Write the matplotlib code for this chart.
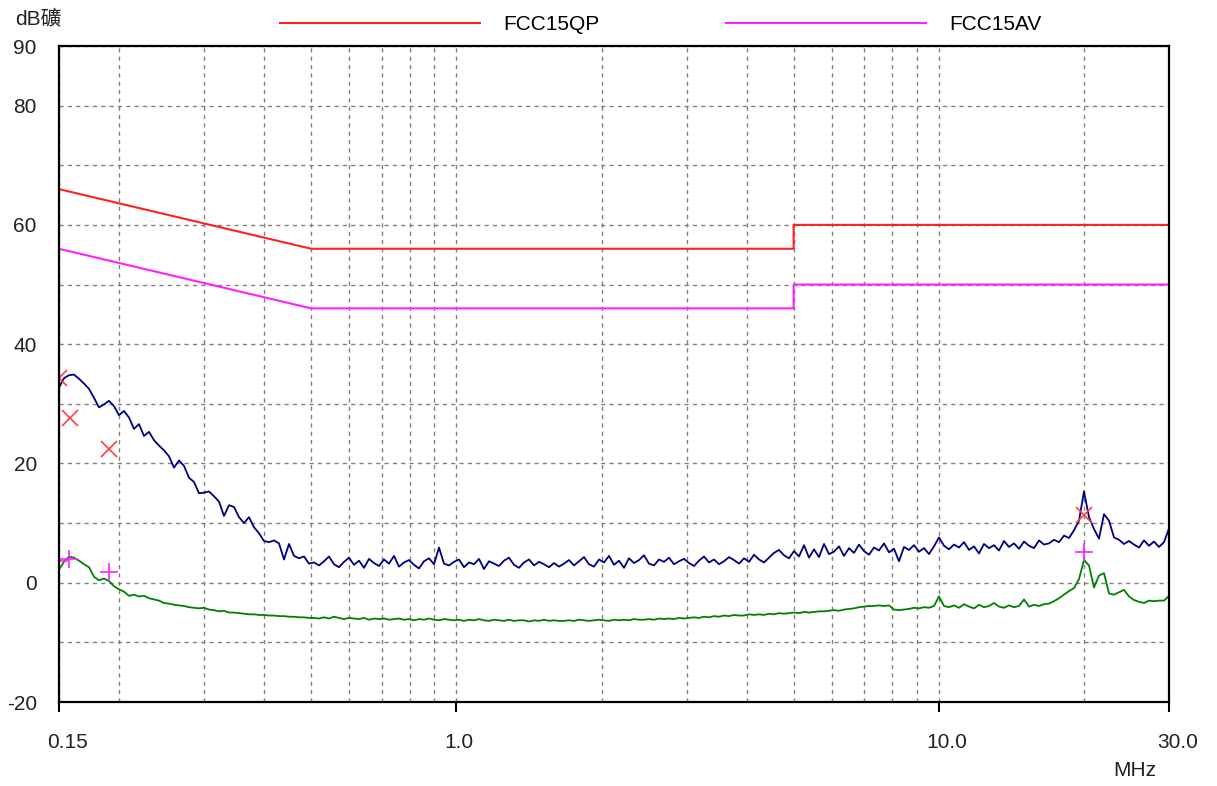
import numpy as np
import matplotlib.pyplot as plt
from matplotlib.transforms import offset_copy

plt.rcParams['font.family'] = ['Liberation Sans', 'Noto Sans CJK SC', 'DejaVu Sans']

# limit lines (MHz, dB)
qp_freq = [0.15, 0.5, 5.0, 5.0, 30.0]
qp_level = [66, 56, 56, 60, 60]
av_freq = [0.15, 0.5, 5.0, 5.0, 30.0]
av_level = [56, 46, 46, 50, 50]

# peak scan (blue), log sweep 0.15..30 MHz
peak_db = [
    32.7, 34.3, 34.8, 34.9, 34.2, 33.4, 32.5, 31.0, 29.4, 29.9,
    30.5, 29.6, 28.1, 28.8, 27.7, 25.8, 26.6, 24.6, 25.3, 23.9,
    23.0, 22.2, 21.2, 19.3, 20.5, 19.6, 17.6, 16.9, 15.0, 15.1,
    15.3, 14.5, 13.6, 11.2, 13.0, 12.7, 11.0, 10.0, 11.0, 9.3,
    8.3, 7.0, 6.8, 7.1, 6.6, 3.9, 6.5, 4.5, 4.1, 4.4,
    3.2,
    3.4, 2.9, 3.6, 4.4, 3.1, 2.6, 3.5, 4.2, 3.0, 3.7,
    2.5, 4.0, 3.3, 2.8, 3.9, 3.2, 4.5, 2.7, 3.4, 3.8,
    3.0, 2.4, 3.6, 4.1, 3.1, 5.9, 3.2, 2.9, 3.5, 3.9,
    2.6, 3.4, 3.1, 4.0, 2.3, 3.6, 3.2, 2.8, 3.7, 4.2,
    3.0, 2.5, 3.4, 3.9, 2.9, 3.5, 3.1, 2.6, 3.3, 2.7,
    3.2, 3.8, 2.9, 3.6, 4.3, 3.1, 2.7, 3.9, 3.4, 4.5,
    3.0, 3.7, 2.5, 4.1, 3.3, 3.8, 4.6, 3.2, 2.9, 3.9,
    3.5, 4.2, 3.1, 3.6, 4.0, 3.3, 2.8, 3.7, 4.4, 3.4,
    3.9, 3.1, 3.6, 4.3, 3.8, 3.2, 4.1, 3.5, 4.7, 3.9,
    3.4, 4.2, 5.0, 5.5, 4.6, 4.1, 5.3, 4.4, 6.3, 4.2,
    5.6, 4.3, 6.5, 4.8, 5.2, 6.1, 4.5, 5.8, 5.0, 6.4,
    5.3, 4.7, 5.9, 5.4, 6.6, 5.1, 5.7, 3.6, 6.0, 5.5,
    6.3, 5.2, 5.8, 4.8, 6.1,
    7.6, 6.2, 5.6, 6.4, 5.9, 6.8, 5.5, 6.1, 4.9, 6.5,
    5.8, 6.3, 5.4, 7.0, 6.0, 6.6, 5.7, 6.9, 6.2, 5.8,
    7.1, 6.4,
    6.6, 7.2, 6.8, 7.9, 7.5, 8.8, 10.4, 15.3,
    11.0, 9.0, 7.4, 11.5, 10.4, 7.6, 7.2, 6.5, 7.0, 6.4,
    5.9, 7.1, 6.2, 6.9, 6.0, 6.8, 9.1,
]

# average scan (green)
avg_db = [
    2.2, 3.5, 4.4, 4.2, 3.7, 3.1, 2.6, 1.0, 0.4, 0.7,
    0.3, -0.6, -1.1, -1.5, -2.2, -2.0, -2.3, -2.2, -2.6, -2.8,
    -3.0, -3.4, -3.5, -3.7, -3.8, -3.9, -4.1, -4.2, -4.3, -4.2,
    -4.5, -4.6, -4.8, -4.7, -5.0, -5.0, -5.1, -5.2, -5.3, -5.3,
    -5.4, -5.4, -5.5, -5.5, -5.6, -5.6, -5.7, -5.7, -5.8, -5.8,
    -5.9,
    -5.9, -6.0, -5.8, -6.0, -5.7, -5.9, -6.1, -5.9, -6.0, -6.1,
    -5.9, -6.2, -6.0, -6.1, -6.0, -6.2, -6.1, -6.0, -6.2, -6.1,
    -6.3, -6.1, -6.2, -6.0, -6.2, -6.3, -6.1, -6.2, -6.3, -6.2,
    -6.4, -6.2, -6.3, -6.1, -6.3, -6.4, -6.2, -6.3, -6.4, -6.2,
    -6.4, -6.3, -6.3, -6.5, -6.3, -6.4, -6.2, -6.4, -6.3, -6.4,
    -6.4, -6.3, -6.4, -6.2, -6.3, -6.4, -6.3, -6.2, -6.3, -6.4,
    -6.2, -6.3, -6.2, -6.3, -6.1, -6.2, -6.2, -6.1, -6.2, -6.0,
    -6.1, -6.0, -6.1, -5.9, -6.0, -5.9, -5.8, -5.9, -5.7, -5.8,
    -5.6, -5.7, -5.5, -5.6, -5.4, -5.5, -5.5, -5.3, -5.4, -5.3,
    -5.4, -5.2, -5.3, -5.1, -5.2, -5.1, -5.0, -5.1, -4.9, -5.0,
    -4.9, -4.8, -4.8, -4.7, -4.6, -4.7, -4.5, -4.4, -4.3, -4.1,
    -4.0, -3.9, -3.9, -3.8, -3.9, -3.8, -4.5, -4.6, -4.5, -4.4,
    -4.2, -4.3, -4.1, -4.2, -3.9,
    -2.3, -3.9, -4.1, -3.8, -4.2, -3.6, -4.0, -4.3, -3.7, -4.1,
    -3.9, -3.4, -4.0, -4.2, -3.8, -4.1, -3.9, -2.8, -4.0, -3.7,
    -3.9, -3.6,
    -3.5, -3.1, -2.6, -2.0, -1.4, -0.9, 0.6, 3.8,
    2.9, -0.8, 1.2, 1.6, -1.8, -2.0, -1.6, -1.2, -2.3, -2.9,
    -3.2, -3.4, -3.0, -3.1, -3.0, -3.0, -2.2,
]

# final measurement points
qp_pts_freq = [0.15, 0.158, 0.19, 20.0]
qp_pts_db = [34.3, 27.6, 22.5, 11.4]
av_pts_freq = [0.15, 0.157, 0.19, 20.0]
av_pts_db = [3.6, 4.0, 1.8, 5.2]

xtick_vals = [0.15, 1.0, 10.0, 30.0]
xtick_labels = ['0.15', '1.0', '10.0', '30.0']
ytick_vals = [-20, -10, 0, 10, 20, 30, 40, 50, 60, 70, 80, 90]
ytick_labels = ['-20', '', '0', '', '20', '', '40', '', '60', '', '80', '90']

freq = np.geomspace(0.15, 30.0, len(peak_db))

fig = plt.figure(figsize=(12.17, 7.86), dpi=100)
ax = fig.add_axes([59 / 1217, 1 - 702 / 786, 1110 / 1217, 656 / 786])

l_qp, = ax.plot(qp_freq, qp_level, color='#ff2020', lw=1.5, label='FCC15QP')
l_av, = ax.plot(av_freq, av_level, color='#ff20ff', lw=1.5, label='FCC15AV')
ax.plot(freq, peak_db, color='#000080', lw=1.3)
ax.plot(freq, avg_db, color='#008000', lw=1.3)
ax.plot(qp_pts_freq, qp_pts_db, ls='none', marker='x', ms=11, mew=1.2, color='#ff4040')
ax.plot(av_pts_freq, av_pts_db, ls='none', marker='+', ms=13, mew=1.2, color='#ff20ff')

ax.set_xscale('log')
ax.set_xlim(0.15, 30)
ax.set_ylim(-20, 90)

ax.set_xticks(xtick_vals)
ax.set_xticklabels([])
ax.set_xticks([0.2, 0.3, 0.4, 0.5, 0.6, 0.7, 0.8, 0.9,
               2, 3, 4, 5, 6, 7, 8, 9, 20], minor=True)
ax.set_yticks(ytick_vals)
ax.set_yticklabels(ytick_labels, fontsize=15, color='#222222')
ax.tick_params(axis='y', length=0, pad=16)
ax.tick_params(axis='x', which='major', length=7, width=1.5, direction='out')
ax.tick_params(axis='x', which='minor', length=0)

ax.grid(True, which='both', color='#808080', lw=1.0, ls=(0, (3, 3)))
ax.set_axisbelow(True)
for s in ax.spines.values():
    s.set_linewidth(1.6)
    s.set_color('black')

trans = offset_copy(ax.get_xaxis_transform(), fig=fig, x=-12, y=-40, units='dots')
for f, lab in zip(xtick_vals, xtick_labels):
    ax.text(f, 0, lab, transform=trans, ha='left', va='center', fontsize=15, color='#222222')

fig.text(15 / 1217, 1 - 20 / 786, 'dB礦', ha='left', va='center', fontsize=15, color='#222222')
fig.text(1113 / 1217, 1 - 770 / 786, 'MHz', ha='left', va='center', fontsize=15, color='#222222')

fig.legend(handles=[l_qp, l_av], loc='center left', bbox_to_anchor=(280 / 1217, 1 - 25 / 786),
           ncol=2, frameon=False, fontsize=15, borderpad=0, borderaxespad=0,
           handlelength=9.6, handletextpad=1.1, columnspacing=6.1)

fig.savefig('out.png', dpi=100)
